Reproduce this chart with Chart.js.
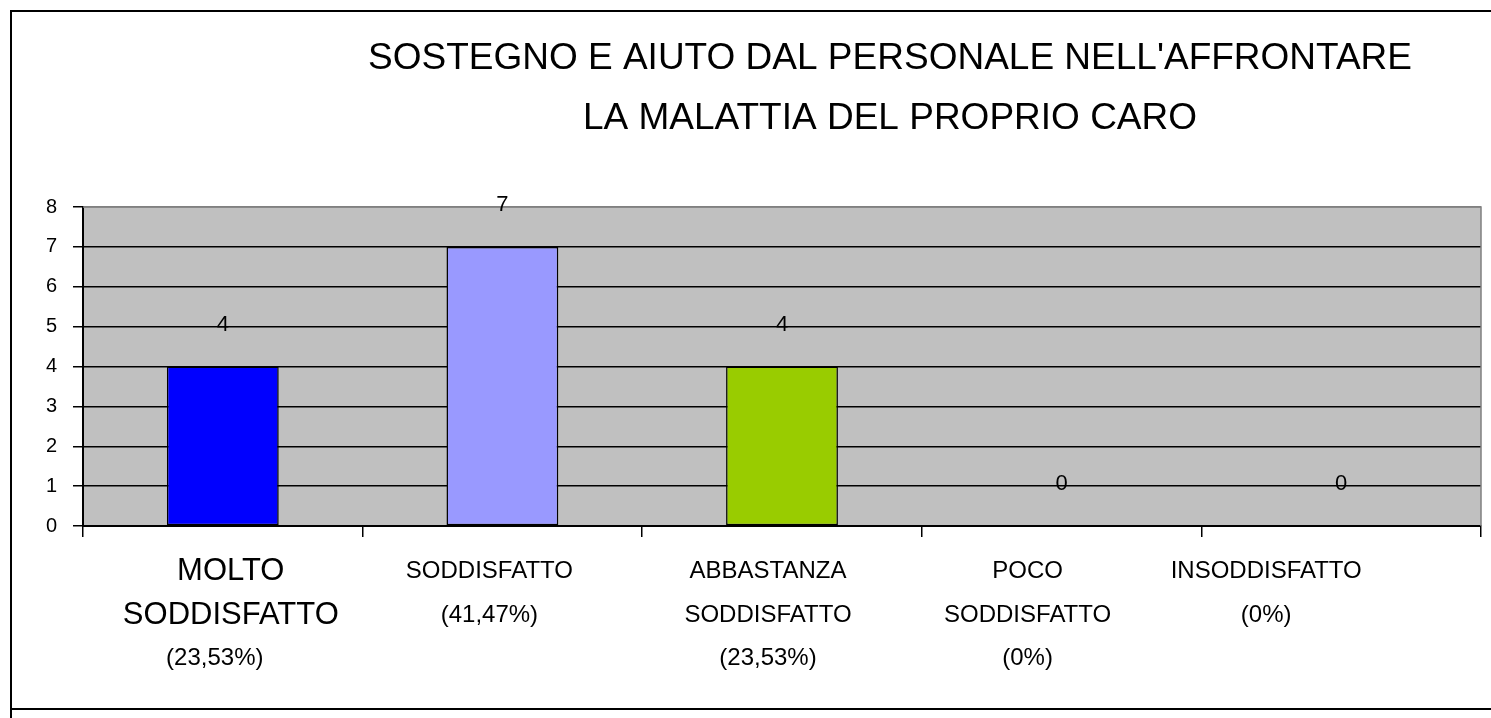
<!DOCTYPE html>
<html>
<head>
<meta charset="utf-8">
<script src="https://cdn.jsdelivr.net/npm/chart.js@4"></script>
<style>
  body { margin: 0; background: #fff; }
  .wrap { width: 1491px; height: 718px; position: relative; }
</style>
</head>
<body>
<div class="wrap"><canvas class="satisfaction-chart"></canvas></div>
<script>
const titleLines = [
  "SOSTEGNO E AIUTO DAL PERSONALE NELL'AFFRONTARE",
  "LA MALATTIA DEL PROPRIO CARO",
];
const categories = [
  ["MOLTO", "SODDISFATTO", "(23,53%)"],
  ["SODDISFATTO", "(41,47%)"],
  ["ABBASTANZA", "SODDISFATTO", "(23,53%)"],
  ["POCO", "SODDISFATTO", "(0%)"],
  ["INSODDISFATTO", "(0%)"],
];
const values = [4, 7, 4, 0, 0];
const yTicks = [0, 1, 2, 3, 4, 5, 6, 7, 8];

// styling only
const barColors = ["#0000FF", "#9999FF", "#99CC00", "#FF99CC", "#FFCC00"];
const labelNudge = [8, -13, -14, -34, -75];
const FONT = "'Liberation Sans', Arial, sans-serif";

const frameAndBackground = {
  id: "frameAndBackground",
  beforeDraw(chart) {
    const { ctx, chartArea: a } = chart;
    ctx.save();
    ctx.fillStyle = "#C0C0C0";
    ctx.fillRect(a.left, a.top, a.right - a.left, a.bottom - a.top);
    ctx.strokeStyle = "#000";
    ctx.lineWidth = 2;
    ctx.beginPath();
    ctx.moveTo(11, 718);
    ctx.lineTo(11, 11);
    ctx.lineTo(1491, 11);
    ctx.moveTo(10, 709);
    ctx.lineTo(1491, 709);
    ctx.stroke();
    ctx.restore();
  },
  beforeDatasetsDraw(chart) {
    const { ctx, chartArea: a } = chart;
    ctx.save();
    ctx.strokeStyle = "#808080";
    ctx.lineWidth = 1.5;
    ctx.beginPath();
    ctx.moveTo(a.left, a.top);
    ctx.lineTo(a.right, a.top);
    ctx.lineTo(a.right, a.bottom);
    ctx.stroke();
    ctx.restore();
  },
  afterDraw(chart) {
    const { ctx } = chart;
    const x = chart.scales.x;
    ctx.save();
    ctx.fillStyle = "#000";
    ctx.textAlign = "center";
    ctx.textBaseline = "middle";
    // title
    ctx.font = `37px ${FONT}`;
    titleLines.forEach((t, i) => ctx.fillText(t, 890, 59 + i * 60));
    // category labels
    const rows = [571, 615, 658];
    categories.forEach((lines, i) => {
      const cx = x.getPixelForValue(i) + labelNudge[i];
      lines.forEach((line, j) => {
        const big = i === 0 && j < 2;
        ctx.font = `${big ? 31 : 24}px ${FONT}`;
        // first label's last line sits a bit further left
        const dx = i === 0 && j === 2 ? -16 : 0;
        ctx.fillText(line, cx + dx, rows[j]);
      });
    });
    ctx.restore();
  },
  afterDatasetsDraw(chart) {
    const { ctx } = chart;
    const meta = chart.getDatasetMeta(0);
    ctx.save();
    ctx.fillStyle = "#000";
    ctx.font = `22px ${FONT}`;
    ctx.textAlign = "center";
    ctx.textBaseline = "alphabetic";
    meta.data.forEach((bar, i) => {
      ctx.fillText(String(values[i]), bar.x, bar.y - 36);
    });
    ctx.restore();
  },
};

const config = {
  type: "bar",
  data: {
    labels: categories,
    datasets: [
      {
        data: values,
        backgroundColor: barColors,
        borderColor: "#000",
        borderWidth: 1.5,
        borderSkipped: false,
        barPercentage: 0.4,
        categoryPercentage: 1,
      },
    ],
  },
  options: {
    responsive: true,
    maintainAspectRatio: false,
    animation: false,
    layout: {
      padding: { top: 207, right: 10, left: 0, bottom: 0 },
    },
    plugins: {
      legend: { display: false },
      title: { display: false },
      tooltip: { enabled: false },
    },
    scales: {
      x: {
        afterFit(scale) {
          scale.height = 192;
        },
        ticks: { display: false },
        grid: {
          offset: true,
          drawOnChartArea: false,
          drawTicks: true,
          tickLength: 11,
          color: "#000",
          lineWidth: 1.5,
        },
        border: { color: "#000", width: 2 },
      },
      y: {
        min: 0,
        max: 8,
        afterFit(scale) {
          scale.width = 83;
        },
        afterBuildTicks(scale) {
          scale.ticks = yTicks.map((v) => ({ value: v }));
        },
        ticks: {
          color: "#000",
          padding: 16,
          font: { family: FONT, size: 20 },
        },
        grid: {
          color: (ctx) => (ctx.tick && ctx.tick.value === 8 ? "#808080" : "#000"),
          tickColor: "#000",
          tickLength: 10,
          lineWidth: 1.5,
        },
        border: { color: "#000", width: 2 },
      },
    },
  },
  plugins: [frameAndBackground],
};

const chartElem = document.querySelector(".satisfaction-chart").getContext("2d");
new Chart(chartElem, config);
</script>
</body>
</html>
